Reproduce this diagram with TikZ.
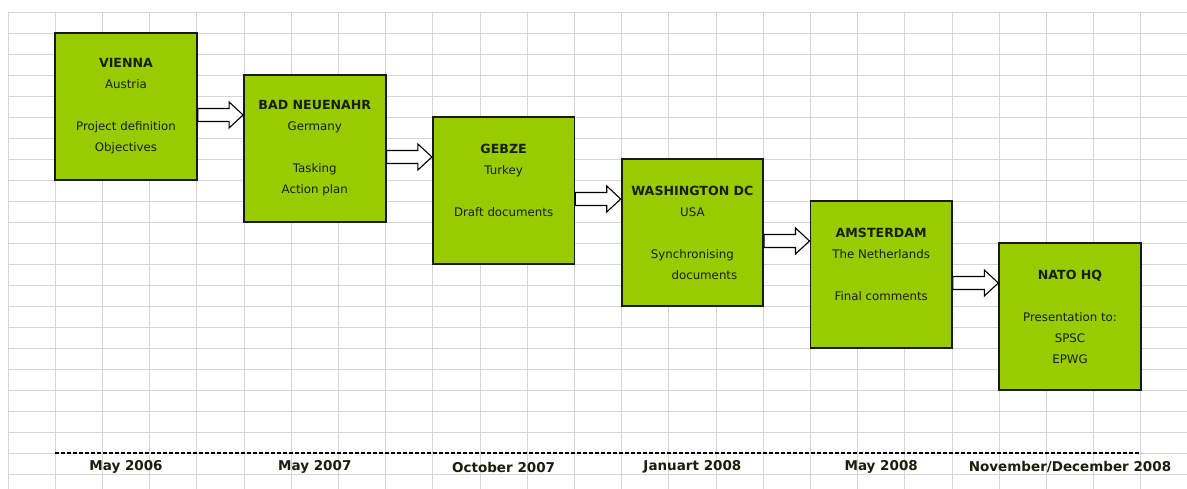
\documentclass[tikz,border=0pt]{standalone}
\usepackage{fontspec}
\setmainfont{DejaVu Sans}
\usepackage{tikz}
\usetikzlibrary{calc}

\definecolor{boxgreen}{HTML}{99CC00}
\definecolor{gridgray}{HTML}{D6D6D6}
\definecolor{inkdark}{HTML}{1A1F0A}
\newcommand{\townname}[1]{{\bfseries\fontsize{12.6}{21}\selectfont #1}}

\tikzset{
  place/.style={draw=black!90, line width=1.8pt, fill=boxgreen, minimum width=141.6pt,
    minimum height=147pt, inner sep=0pt, align=center, text=inkdark,
    font=\fontsize{11.8}{21}\selectfont},
  datelabel/.style={text=inkdark, font=\bfseries\fontsize{13.5}{15}\selectfont},
  fatarrow/.style={draw, fill=white, line width=1.1pt, to path={
    let \p1=(\tikztostart), \p2=(\tikztotarget) in
    (\x1,\y1+6.5pt) -- (\x2-14pt,\y1+6.5pt) -- (\x2-14pt,\y1+13pt) -- (\x2,\y1)
    -- (\x2-14pt,\y1-13pt) -- (\x2-14pt,\y1-6.5pt) -- (\x1,\y1-6.5pt) -- cycle}}
}

\begin{document}
\begin{tikzpicture}[x=1pt,y=1pt]
\fill[white] (0,0) rectangle (1187,489);
\useasboundingbox (0,0) rectangle (1187,489);
\begin{scope}[shift={(8,15)}]
  \draw[gridgray, line width=0.8pt, xstep=47.2, ystep=21] (0,-15) grid (1179,462);
\end{scope}

\node[place] (vienna) at (126,382.5) {\townname{VIENNA}\\Austria\\~\\Project definition\\Objectives};
\node[place] (bad) at (314.8,340.5) {\townname{BAD NEUENAHR}\\Germany\\~\\Tasking\\Action plan};
\node[place] (gebze) at (503.6,298.5) {\townname{GEBZE}\\Turkey\\~\\Draft documents\\~};
\node[place] (washington) at (692.4,256.5) {\townname{WASHINGTON DC}\\USA\\~\\Synchronising\\\hspace*{24pt}documents};
\node[place] (amsterdam) at (881.2,214.5) {\townname{AMSTERDAM}\\The Netherlands\\~\\Final comments\\~};
\node[place] (nato) at (1070,172.5) {\townname{NATO HQ}\\~\\Presentation to:\\SPSC\\EPWG};

\draw[fatarrow] ([yshift=-8.5pt]vienna.east) to (bad.west);
\draw[fatarrow] ([yshift=-8.5pt]bad.east) to (gebze.west);
\draw[fatarrow] ([yshift=-8.5pt]gebze.east) to (washington.west);
\draw[fatarrow] ([yshift=-8.5pt]washington.east) to (amsterdam.west);
\draw[fatarrow] ([yshift=-8.5pt]amsterdam.east) to (nato.west);

\draw[line width=1.2pt, dash pattern=on 4pt off 2pt] (55,36) -- (1141,36);

\node[datelabel] (d1) at (vienna |- 0,22) {May 2006};
\node[datelabel] (d2) at (bad |- 0,22) {May 2007};
\node[datelabel] (d3) at (gebze |- 0,22) {October 2007};
\node[datelabel] (d4) at (washington |- 0,22) {Januart 2008};
\node[datelabel] (d5) at (amsterdam |- 0,22) {May 2008};
\node[datelabel] (d6) at (nato |- 0,22) {November/December 2008};
\end{tikzpicture}
\end{document}
